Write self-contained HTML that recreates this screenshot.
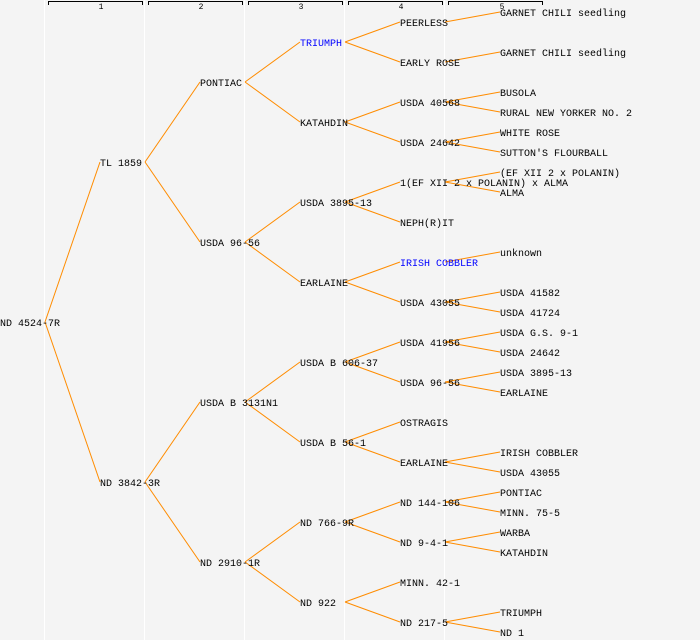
<!DOCTYPE html>
<html><head><meta charset="utf-8"><style>
html,body{margin:0;padding:0;background:#f4f4f4;}
svg{display:block;}
text{font-family:"Liberation Mono","DejaVu Sans Mono",monospace;font-size:10px;fill:#000;}
.h{font-size:8px;text-anchor:middle;}
.b{fill:#0000ff;}
line.c{stroke:#ff8c00;stroke-width:1;}
</style></head><body>
<svg width="700" height="640" viewBox="0 0 700 640" xmlns="http://www.w3.org/2000/svg">
<rect width="700" height="640" fill="#f4f4f4"/>
<g stroke="#ffffff" stroke-width="1">
<line x1="44.5" y1="0" x2="44.5" y2="640"/><line x1="144.5" y1="0" x2="144.5" y2="640"/>
<line x1="244.5" y1="0" x2="244.5" y2="640"/><line x1="344.5" y1="0" x2="344.5" y2="640"/>
<line x1="444.5" y1="0" x2="444.5" y2="640"/>
</g>
<g stroke="#000" fill="none" stroke-width="1">
<path d="M48.5 5V1.5H142.5V5"/><path d="M148.5 5V1.5H242.5V5"/><path d="M248.5 5V1.5H342.5V5"/>
<path d="M348.5 5V1.5H442.5V5"/><path d="M448.5 5V1.5H542.5V5"/>
</g>
<text class="h" x="101" y="9">1</text><text class="h" x="201" y="9">2</text><text class="h" x="301" y="9">3</text>
<text class="h" x="401" y="9">4</text><text class="h" x="502" y="9">5</text>
<g class="c">
<line class="c" x1="45" y1="322" x2="100" y2="162"/><line class="c" x1="45" y1="322" x2="100" y2="482"/>
<line class="c" x1="145" y1="162" x2="200" y2="82"/><line class="c" x1="145" y1="162" x2="200" y2="242"/>
<line class="c" x1="145" y1="482" x2="200" y2="402"/><line class="c" x1="145" y1="482" x2="200" y2="562"/>
<line class="c" x1="245" y1="82" x2="300" y2="42"/><line class="c" x1="245" y1="82" x2="300" y2="122"/>
<line class="c" x1="245" y1="242" x2="300" y2="202"/><line class="c" x1="245" y1="242" x2="300" y2="282"/>
<line class="c" x1="245" y1="402" x2="300" y2="362"/><line class="c" x1="245" y1="402" x2="300" y2="442"/>
<line class="c" x1="245" y1="562" x2="300" y2="522"/><line class="c" x1="245" y1="562" x2="300" y2="602"/>
<line class="c" x1="345" y1="42" x2="400" y2="22"/><line class="c" x1="345" y1="42" x2="400" y2="62"/>
<line class="c" x1="345" y1="122" x2="400" y2="102"/><line class="c" x1="345" y1="122" x2="400" y2="142"/>
<line class="c" x1="345" y1="202" x2="400" y2="182"/><line class="c" x1="345" y1="202" x2="400" y2="222"/>
<line class="c" x1="345" y1="282" x2="400" y2="262"/><line class="c" x1="345" y1="282" x2="400" y2="302"/>
<line class="c" x1="345" y1="362" x2="400" y2="342"/><line class="c" x1="345" y1="362" x2="400" y2="382"/>
<line class="c" x1="345" y1="442" x2="400" y2="422"/><line class="c" x1="345" y1="442" x2="400" y2="462"/>
<line class="c" x1="345" y1="522" x2="400" y2="502"/><line class="c" x1="345" y1="522" x2="400" y2="542"/>
<line class="c" x1="345" y1="602" x2="400" y2="582"/><line class="c" x1="345" y1="602" x2="400" y2="622"/>
<line class="c" x1="445" y1="22" x2="500" y2="12"/>
<line class="c" x1="445" y1="62" x2="500" y2="52"/>
<line class="c" x1="445" y1="102" x2="500" y2="92"/><line class="c" x1="445" y1="102" x2="500" y2="112"/>
<line class="c" x1="445" y1="142" x2="500" y2="132"/><line class="c" x1="445" y1="142" x2="500" y2="152"/>
<line class="c" x1="445" y1="182" x2="500" y2="172"/><line class="c" x1="445" y1="182" x2="500" y2="192"/>
<line class="c" x1="445" y1="262" x2="500" y2="252"/>
<line class="c" x1="445" y1="302" x2="500" y2="292"/><line class="c" x1="445" y1="302" x2="500" y2="312"/>
<line class="c" x1="445" y1="342" x2="500" y2="332"/><line class="c" x1="445" y1="342" x2="500" y2="352"/>
<line class="c" x1="445" y1="382" x2="500" y2="372"/><line class="c" x1="445" y1="382" x2="500" y2="392"/>
<line class="c" x1="445" y1="462" x2="500" y2="452"/><line class="c" x1="445" y1="462" x2="500" y2="472"/>
<line class="c" x1="445" y1="502" x2="500" y2="492"/><line class="c" x1="445" y1="502" x2="500" y2="512"/>
<line class="c" x1="445" y1="542" x2="500" y2="532"/><line class="c" x1="445" y1="542" x2="500" y2="552"/>
<line class="c" x1="445" y1="622" x2="500" y2="612"/><line class="c" x1="445" y1="622" x2="500" y2="632"/>
</g>
<g>
<text x="0" y="326">ND 4524-7R</text>
<text x="100" y="166">TL 1859</text><text x="100" y="486">ND 3842-3R</text>
<text x="200" y="86">PONTIAC</text><text x="200" y="246">USDA 96-56</text>
<text x="200" y="406">USDA B 3131N1</text><text x="200" y="566">ND 2910-1R</text>
<text x="300" y="46" class="b">TRIUMPH</text><text x="300" y="126">KATAHDIN</text>
<text x="300" y="206">USDA 3895-13</text><text x="300" y="286">EARLAINE</text>
<text x="300" y="366">USDA B 606-37</text><text x="300" y="446">USDA B 56-1</text>
<text x="300" y="526">ND 766-9R</text><text x="300" y="606">ND 922</text>
<text x="400" y="26">PEERLESS</text><text x="400" y="66">EARLY ROSE</text>
<text x="400" y="106">USDA 40568</text><text x="400" y="146">USDA 24642</text>
<text x="400" y="186">1(EF XII 2 x POLANIN) x ALMA</text><text x="400" y="226">NEPH(R)IT</text>
<text x="400" y="266" class="b">IRISH COBBLER</text><text x="400" y="306">USDA 43055</text>
<text x="400" y="346">USDA 41956</text><text x="400" y="386">USDA 96-56</text>
<text x="400" y="426">OSTRAGIS</text><text x="400" y="466">EARLAINE</text>
<text x="400" y="506">ND 144-106</text><text x="400" y="546">ND 9-4-1</text>
<text x="400" y="586">MINN. 42-1</text><text x="400" y="626">ND 217-5</text>
<text x="500" y="16">GARNET CHILI seedling</text><text x="500" y="56">GARNET CHILI seedling</text>
<text x="500" y="96">BUSOLA</text><text x="500" y="116">RURAL NEW YORKER NO. 2</text>
<text x="500" y="136">WHITE ROSE</text><text x="500" y="156">SUTTON'S FLOURBALL</text>
<text x="500" y="176">(EF XII 2 x POLANIN)</text><text x="500" y="196">ALMA</text>
<text x="500" y="256">unknown</text>
<text x="500" y="296">USDA 41582</text><text x="500" y="316">USDA 41724</text>
<text x="500" y="336">USDA G.S. 9-1</text><text x="500" y="356">USDA 24642</text>
<text x="500" y="376">USDA 3895-13</text><text x="500" y="396">EARLAINE</text>
<text x="500" y="456">IRISH COBBLER</text><text x="500" y="476">USDA 43055</text>
<text x="500" y="496">PONTIAC</text><text x="500" y="516">MINN. 75-5</text>
<text x="500" y="536">WARBA</text><text x="500" y="556">KATAHDIN</text>
<text x="500" y="616">TRIUMPH</text><text x="500" y="636">ND 1</text>
</g>
</svg>
</body></html>
